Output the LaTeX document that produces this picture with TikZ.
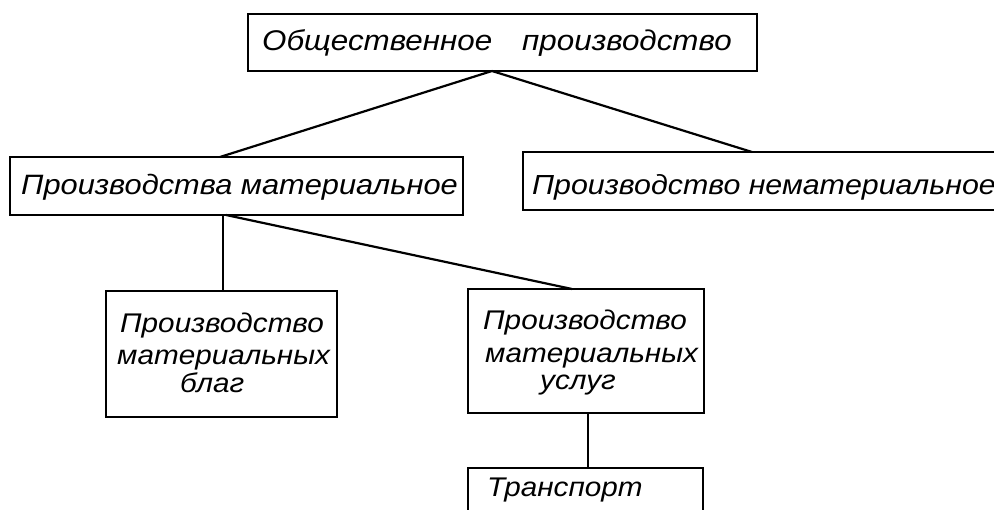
\documentclass[tikz,border=0pt]{standalone}
\usepackage{fontspec}
\newfontfamily\hand[FakeStretch=1.1]{Liberation Sans}
\begin{document}
\begin{tikzpicture}[x=1pt,y=-1pt,
  box/.style={draw, line width=2.2pt, inner sep=0pt, outer sep=0pt, anchor=north west},
  big/.style={font=\hand\itshape\fontsize{28.5}{30}\selectfont, inner sep=0pt, anchor=base west},
  small/.style={font=\hand\itshape\fontsize{27}{28}\selectfont, inner sep=0pt, anchor=base west},
  conn/.style={line width=2.2pt}]
\clip (0,0) rectangle (994,510);
% boxes
\node[box, minimum width=509pt, minimum height=57pt] (top) at (248,14) {};
\node[box, minimum width=453pt, minimum height=58pt] (mat) at (10,157) {};
\node[box, minimum width=500pt, minimum height=58pt] (nemat) at (523,152) {};
\node[box, minimum width=231pt, minimum height=126pt] (blag) at (106,291) {};
\node[box, minimum width=236pt, minimum height=124pt] (usl) at (468,289) {};
\node[box, minimum width=235pt, minimum height=80pt] (trans) at (468,468) {};
% texts
\node[big] (ttop) at (262,51) {Общественное\hspace{30pt}производство};
\node[big, font=\hand\itshape\fontsize{28}{30}\selectfont] (tmat) at (21,195) {Производства материальное};
\node[big, font=\hand\itshape\fontsize{27.6}{30}\selectfont] (tnemat) at (532,195) {Производство нематериальное};
\node[small] (tblagA) at (120,333) {Производство};
\node[small] (tblagB) at (117,365) {материальных};
\node[small] (tblagC) at (180,393) {благ};
\node[small] (tuslA) at (483,330) {Производство};
\node[small] (tuslB) at (485,363) {материальных};
\node[small] (tuslC) at (540,390) {услуг};
\node[small] (ttrans) at (487,497) {Транспорт};
% connectors
\draw[conn] ([xshift=244pt]top.south west) -- ([xshift=210pt]mat.north west);
\draw[conn] ([xshift=244pt]top.south west) -- ([xshift=229pt]nemat.north west);
\draw[conn] ([xshift=213pt]mat.south west) -- ([xshift=117pt]blag.north west);
\draw[conn] ([xshift=216pt]mat.south west) -- ([xshift=104pt]usl.north west);
\draw[conn] ([xshift=120pt]usl.south west) -- ([xshift=120pt]trans.north west);
\end{tikzpicture}
\end{document}
